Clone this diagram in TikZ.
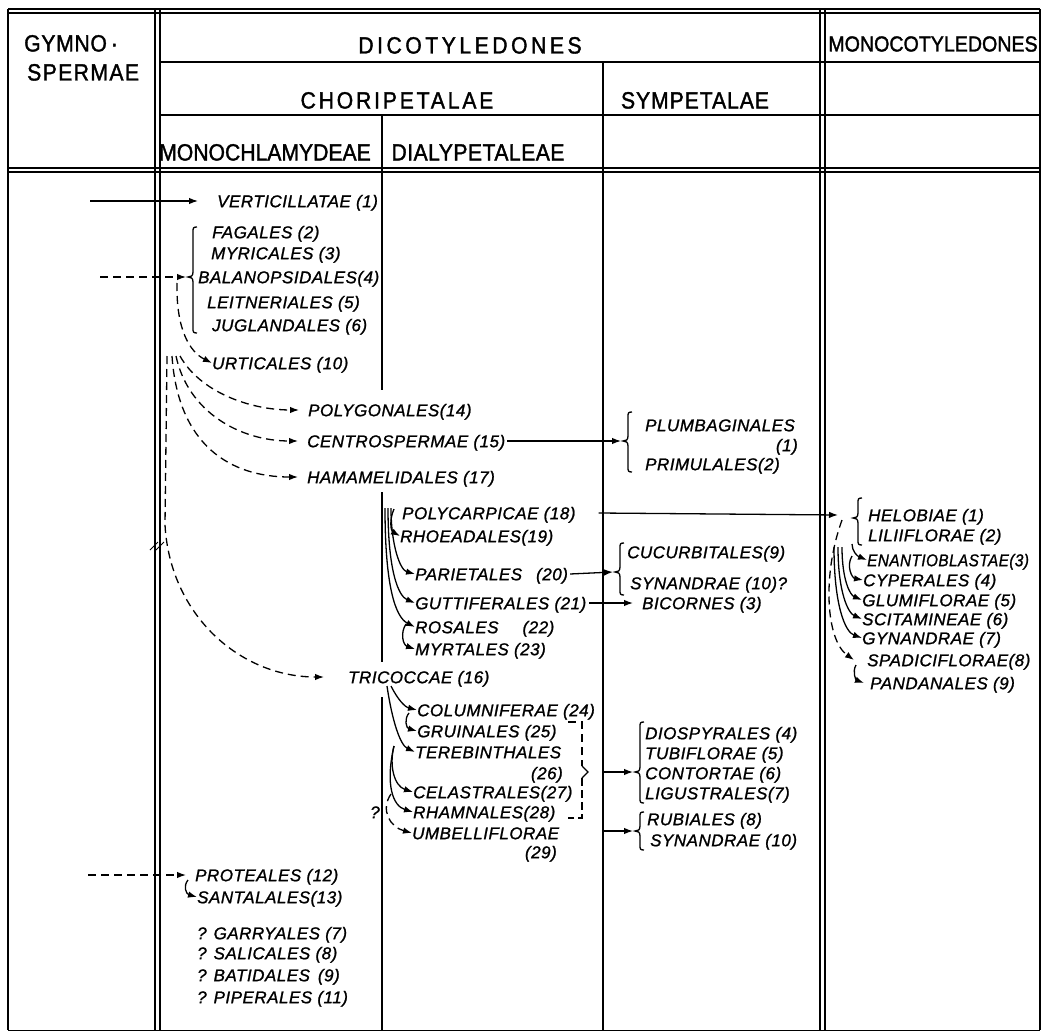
\documentclass[tikz,border=0pt]{standalone}
\usepackage{fontspec}
\usepackage{graphicx}
\setmainfont{Liberation Sans}
\newfontfamily\hdrfont{Liberation Sans}[FakeStretch=0.9,FakeBold=1.5]
\newfontfamily\lblfont{Liberation Sans}[LetterSpace=3,FakeBold=1.2]
\usetikzlibrary{arrows.meta}
\newcommand{\mybrace}[4]{%
  \draw[thinl] ({#1+4},#2) .. controls ({#1},#2) and ({#1},{#2+1}) .. ({#1},{#2+5}) -- ({#1},{#3-5}) .. controls ({#1},{#3-1}) and ({#1-2},#3) .. ({#1-5},#3) .. controls ({#1-2},#3) and ({#1},{#3+1}) .. ({#1},{#3+5}) -- ({#1},{#4-5}) .. controls ({#1},{#4-1}) and ({#1},#4) .. ({#1+4},#4);}
\begin{document}
\begin{tikzpicture}[x=1pt,y=-1pt,
  lbl/.style={font=\lblfont\itshape\fontsize{17}{19}\selectfont, anchor=west, inner sep=0pt, text height=12.4pt, text depth=0pt},
  hdr/.style={font=\hdrfont\fontsize{23.5}{26}\selectfont, inner sep=0pt, text height=17pt, text depth=0pt},
  framel/.style={line width=1.7pt},
  thinl/.style={line width=1.3pt},
  con/.style={line width=1.3pt},
  arr/.style={-{Latex[length=9pt,width=6.5pt]}},
  dsh/.style={dash pattern=on 8pt off 5pt}]
\useasboundingbox (0,0) rectangle (1044,1033);
% ---------- table frame ----------
\draw[framel] (8,9) -- (1040,9);
\draw[framel] (8,13) -- (1040,13);
\draw[framel] (8,9) -- (8,1030);
\draw[framel] (1040,9) -- (1040,1030);
\draw[framel] (155,9) -- (155,1030);
\draw[framel] (160,9) -- (160,1030);
\draw[framel] (820,9) -- (820,1030);
\draw[framel] (825,9) -- (825,1030);
\draw[framel] (160,62) -- (1040,62);
\draw[framel] (160,115) -- (1040,115);
\draw[framel] (8,168) -- (1040,168);
\draw[framel] (8,172) -- (1040,172);
\draw[thinl] (603,62) -- (603,1030);
\draw[thinl] (382,115) -- (382,390);
\draw[thinl] (382,492) -- (382,662);
\draw[thinl] (382,697) -- (382,1030);
\draw[line width=0.8pt] (8,1030) -- (1040,1030);
% break mark
\draw[line width=0.9pt] (150,550) -- (158,542);
\draw[line width=0.9pt] (156,550) -- (164,542);
% ---------- headers ----------
\node[hdr,anchor=west] (gym1) at (24,43) {\addfontfeature{LetterSpace=3}GYMNO\,·};
\node[hdr,anchor=west] (gym2) at (27,72) {\addfontfeature{LetterSpace=6}SPERMAE};
\node[hdr] (dico) at (470,45) {\addfontfeature{LetterSpace=15}DICOTYLEDONES};
\node[hdr,font=\hdrfont\fontsize{21.8}{24}\selectfont] (mono) at (933,43) {MONOCOTYLEDONES};
\node[hdr] (chor) at (397,100) {\addfontfeature{LetterSpace=12}CHORIPETALAE};
\node[hdr] (symp) at (695,100) {\addfontfeature{LetterSpace=4}SYMPETALAE};
\node[hdr] (monochl) at (265,152) {MONOCHLAMYDEAE};
\node[hdr] (dialy) at (478,152) {\addfontfeature{LetterSpace=2}DIALYPETALEAE};
% ---------- labels ----------
\node[lbl] (verti) at (217,201) {VERTICILLATAE (1)};
\node[lbl] (fag) at (212,232) {FAGALES (2)};
\node[lbl] (myr) at (211,253) {MYRICALES (3)};
\node[lbl] (bal) at (198,277) {BALANOPSIDALES(4)};
\node[lbl] (lei) at (207,302) {LEITNERIALES (5)};
\node[lbl] (jug) at (212,325) {JUGLANDALES (6)};
\node[lbl] (urt) at (212,363) {URTICALES (10)};
\node[lbl] (polyg) at (308,410) {POLYGONALES(14)};
\node[lbl] (cent) at (307,441) {CENTROSPERMAE (15)};
\node[lbl] (ham) at (307,477) {HAMAMELIDALES (17)};
\node[lbl] (plumb) at (645,425) {PLUMBAGINALES};
\node[lbl,anchor=east] (plumbn) at (798,445) {(1)};
\node[lbl] (prim) at (645,464) {PRIMULALES(2)};
\node[lbl] (polyc) at (402,513) {POLYCARPICAE (18)};
\node[lbl] (rhoe) at (400,536) {RHOEADALES(19)};
\node[lbl] (pari) at (415,574) {PARIETALES\hspace{14pt}(20)};
\node[lbl] (gutt) at (415,603) {GUTTIFERALES (21)};
\node[lbl] (ros) at (415,627) {ROSALES\hspace{24pt}(22)};
\node[lbl] (myrt) at (415,649) {MYRTALES (23)};
\node[lbl] (cucu) at (627,552) {CUCURBITALES(9)};
\node[lbl] (syna) at (630,583) {SYNANDRAE (10)?};
\node[lbl] (bic) at (642,603) {BICORNES (3)};
\node[lbl] (helo) at (868,515) {HELOBIAE (1)};
\node[lbl] (lili) at (868,535) {LILIIFLORAE (2)};
\node[lbl] (enan) at (867,560) {\scalebox{0.9}[1]{ENANTIOBLASTAE(3)}};
\node[lbl] (cyp) at (863,580) {CYPERALES (4)};
\node[lbl] (glum) at (862,600) {GLUMIFLORAE (5)};
\node[lbl] (scit) at (862,619) {SCITAMINEAE (6)};
\node[lbl] (gyn) at (862,638) {GYNANDRAE (7)};
\node[lbl] (spad) at (867,660) {SPADICIFLORAE(8)};
\node[lbl] (pand) at (870,683) {PANDANALES (9)};
\node[lbl] (tric) at (348,677) {TRICOCCAE (16)};
\node[lbl] (colu) at (417,710) {COLUMNIFERAE (24)};
\node[lbl] (grui) at (417,731) {GRUINALES (25)};
\node[lbl] (tere) at (415,752) {TEREBINTHALES};
\node[lbl,anchor=east] (teren) at (563,773) {(26)};
\node[lbl] (cela) at (413,792) {CELASTRALES(27)};
\node[lbl] (rham) at (413,812) {RHAMNALES(28)};
\node[lbl] (umb) at (412,833) {UMBELLIFLORAE};
\node[lbl,anchor=east] (umbn) at (557,852) {(29)};
\node[lbl,anchor=center] (qm) at (375,812) {?};
\node[lbl] (dios) at (645,733) {DIOSPYRALES (4)};
\node[lbl] (tubi) at (645,753) {TUBIFLORAE (5)};
\node[lbl] (cont) at (645,773) {CONTORTAE (6)};
\node[lbl] (ligu) at (645,793) {LIGUSTRALES(7)};
\node[lbl] (rubi) at (647,819) {RUBIALES (8)};
\node[lbl] (syn2) at (650,840) {SYNANDRAE (10)};
\node[lbl] (prot) at (195,875) {PROTEALES (12)};
\node[lbl] (sant) at (197,897) {SANTALALES(13)};
\node[lbl] (garr) at (197,933) {? GARRYALES (7)};
\node[lbl] (sali) at (197,953) {? SALICALES (8)};
\node[lbl] (bati) at (197,975) {? BATIDALES\hspace{8pt}(9)};
\node[lbl] (pipe) at (197,997) {? PIPERALES (11)};
% ---------- braces ----------
\mybrace{193}{227}{277}{333}
\mybrace{628}{412}{441}{472}
\mybrace{620}{543}{572}{595}
\mybrace{858}{498}{518}{545}
\mybrace{640}{722}{772}{803}
\mybrace{640}{812}{831}{850}
% ---------- coordinates ----------
\coordinate (s1) at (90,201);
\coordinate (s2) at (100,277);
\coordinate (s3) at (88,875);
\coordinate (fagtip) at (186,277);
\coordinate (plumbtip) at (621,441);
\coordinate (cucutip) at (613,572);
\coordinate (diossrc) at (603,772);
\coordinate (diostip) at (633,772);
\coordinate (rubisrc) at (603,831);
\coordinate (rubitip) at (633,831);
\coordinate (monotip) at (838,515);
\coordinate (u0) at (177,283);
\coordinate (f1) at (180,356);
\coordinate (f2) at (176,356);
\coordinate (f3) at (172,356);
\coordinate (f4) at (167,356);
\coordinate (p1) at (385,508);
\coordinate (p2) at (388,508);
\coordinate (p3) at (391,508);
\coordinate (p4) at (394,509);
\coordinate (r0) at (406,624);
\coordinate (t1) at (391,686);
\coordinate (t2) at (387,686);
\coordinate (c0) at (409,713);
\coordinate (tb) at (394,746);
\coordinate (ub) at (391,794);
\coordinate (md) at (842,520);
\coordinate (m1) at (834,547);
\coordinate (m2) at (838,547);
\coordinate (m3) at (842,547);
\coordinate (m4) at (852,544);
\coordinate (m5) at (852,556);
\coordinate (sp0) at (856,665);
\coordinate (pr0) at (188,880);
% ---------- connectors ----------
\draw[con,arr] (s1) -- ([xshift=-19pt]verti.west);
\draw[con,dsh,arr] (s2) -- (fagtip);
\draw[con,dsh,arr] (u0) .. controls (176,330) and (190,352) .. (urt.west);
\draw[con,dsh,arr] (f1) .. controls (200,392) and (250,410) .. ([xshift=-9pt]polyg.west);
\draw[con,dsh,arr] (f2) .. controls (188,412) and (240,441) .. ([xshift=-9pt]cent.west);
\draw[con,dsh,arr] (f3) .. controls (178,445) and (230,477) .. ([xshift=-9pt]ham.west);
\draw[con,dsh,arr] (f4) -- (165,525) .. controls (170,615) and (240,677) .. ([xshift=-24pt]tric.west);
\draw[con,arr] ([xshift=2pt]cent.east) -- (plumbtip);
\draw[con,arr] ([xshift=23pt]polyc.east) -- (monotip);
\draw[con,arr] ([xshift=2pt]pari.east) -- (cucutip);
\draw[con,arr] ([xshift=3pt]gutt.east) -- ([xshift=-9pt]bic.west);
\draw[con,arr] (p1) .. controls (385,585) and (395,617) .. (ros.west);
\draw[con,arr] (p2) .. controls (388,570) and (398,596) .. (gutt.west);
\draw[con,arr] (p3) .. controls (391,545) and (400,570) .. (pari.west);
\draw[con,arr] (p4) .. controls (389,520) and (391,531) .. (rhoe.west);
\draw[con,arr] (r0) .. controls (400,633) and (403,645) .. (myrt.west);
\draw[con,arr] (t1) .. controls (398,700) and (405,707) .. (colu.west);
\draw[con,arr] (t2) .. controls (392,720) and (400,745) .. (tere.west);
\draw[con,arr] (c0) .. controls (404,719) and (406,728) .. (grui.west);
\draw[con,arr] (tb) .. controls (389,765) and (394,786) .. (cela.west);
\draw[con,arr] (tb) .. controls (385,785) and (393,806) .. (rham.west);
\draw[con,dsh,arr] (ub) .. controls (380,810) and (390,827) .. (umb.west);
\draw[con,dsh] (568,722) -- (582,722) -- (582,766);
\draw[con] (582,766) -- (588,772) -- (582,778);
\draw[con,dash pattern=on 8pt off 4pt] (582,778) -- (582,818) -- (568,818);
\draw[con,arr] (diossrc) -- (diostip);
\draw[con,arr] (rubisrc) -- (rubitip);
\draw[con,dsh,arr] (md) .. controls (822,575) and (826,640) .. ([xshift=-13pt]spad.west);
\draw[con,arr] (m1) .. controls (834,605) and (845,632) .. (gyn.west);
\draw[con,arr] (m2) .. controls (838,592) and (848,613) .. (scit.west);
\draw[con,arr] (m3) .. controls (842,580) and (850,595) .. (glum.west);
\draw[con,arr] (m4) .. controls (852,551) and (857,556) .. (enan.west);
\draw[con,arr] (m5) .. controls (846,566) and (852,578) .. (cyp.west);
\draw[con,arr] (sp0) .. controls (852,672) and (856,680) .. ([xshift=-6pt]pand.west);
\draw[con,dsh,arr] (s3) -- ([xshift=-9pt]prot.west);
\draw[con,arr] (pr0) .. controls (183,886) and (186,894) .. (sant.west);
\end{tikzpicture}
\end{document}
